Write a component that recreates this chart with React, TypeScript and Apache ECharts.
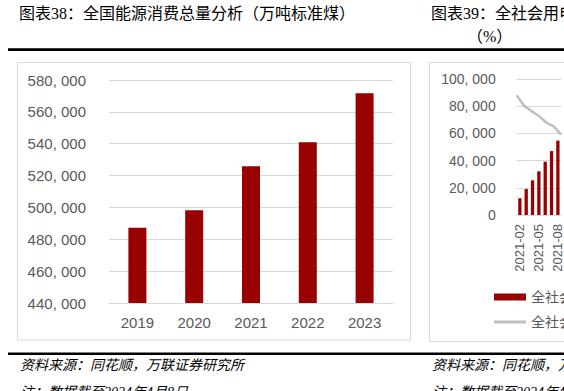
import React, { useEffect, useRef } from "react";
import * as echarts from "echarts";

const energyYears = ["2019", "2020", "2021", "2022", "2023"];
const energyValues = [487300, 498200, 525800, 540900, 571700];
const energyMin = 440000;
const energyMax = 580000;
const energyStep = 20000;

const elecMonths = ["2021-02", "2021-03", "2021-04", "2021-05", "2021-06", "2021-07", "2021-08"];
const elecCumulative = [12300, 19100, 25500, 32100, 39200, 47000, 54700];
const elecGrowth = [22.0, 20.1, 19.1, 18.2, 17.0, 16.3, 14.8];
const elecMax = 100000;
const elecStep = 20000;

const seriesNameBar = "全社会用电量：累计值（亿千瓦时）";
const seriesNameLine = "全社会用电量：累计同比（%）";

const titleLeft = "图表38：全国能源消费总量分析（万吨标准煤）";
const titleRight = "图表39：全社会用电量累计值及累计同比";
const titleRight2 = "（%）";
const sourceText = "资料来源：同花顺，万联证券研究所";
const noteText = "注：数据截至2024年4月8日";
const sourceTextRight = "资料来源：同花顺，万联证券研究所";

const fmt = (v: number) => v.toLocaleString("en-US").replace(/,/g, ", ");

const SANS = "'Liberation Sans', 'Noto Sans CJK SC', sans-serif";
const SERIF = "'Liberation Serif', 'Noto Sans CJK SC', serif";
const GRAY = "#595959";
const GRID = "#D9D9D9";
const RED = "#990000";

export default function App() {
  const ref = useRef<HTMLDivElement>(null);
  useEffect(() => {
    if (!ref.current) return;
    const chart = echarts.init(ref.current, undefined, { renderer: "svg" });
    chart.setOption({
      animation: false,
      backgroundColor: "#fff",
      grid: [
        { left: 109, top: 80, width: 284, height: 223 },
        { left: 516.7, top: 79, width: 49.7, height: 136 },
      ],
      xAxis: [
        {
          gridIndex: 0,
          type: "category",
          data: energyYears,
          axisLine: { lineStyle: { color: GRID } },
          axisTick: { show: false },
          axisLabel: { color: GRAY, fontSize: 15, margin: 12, fontFamily: SANS },
        },
        {
          gridIndex: 1,
          type: "category",
          data: elecMonths,
          axisLine: { lineStyle: { color: GRID } },
          axisTick: { show: false },
          axisLabel: { color: GRAY, fontSize: 13, margin: 9, rotate: 90, interval: 2, fontFamily: SANS },
        },
        {
          gridIndex: 1,
          type: "category",
          data: elecMonths,
          boundaryGap: false,
          show: false,
        },
      ],
      yAxis: [
        {
          gridIndex: 0,
          type: "value",
          min: energyMin,
          max: energyMax,
          interval: energyStep,
          axisLine: { show: false },
          axisTick: { show: false },
          axisLabel: { color: GRAY, fontSize: 15, margin: 23, fontFamily: SANS, formatter: fmt },
          splitLine: { lineStyle: { color: GRID } },
        },
        {
          gridIndex: 1,
          type: "value",
          min: 0,
          max: elecMax,
          interval: elecStep,
          axisLine: { show: false },
          axisTick: { show: false },
          axisLabel: { color: GRAY, fontSize: 14, margin: 21, fontFamily: SANS, formatter: fmt },
          splitLine: { lineStyle: { color: GRID } },
        },
        {
          gridIndex: 1,
          type: "value",
          min: 0,
          max: 25,
          show: false,
          splitLine: { show: false },
        },
      ],
      legend: [
        {
          data: [{ name: seriesNameBar, icon: "rect" }],
          left: 494,
          top: 290,
          padding: 0,
          itemWidth: 32,
          itemHeight: 7,
          itemGap: 0,
          textStyle: { color: GRAY, fontSize: 14, fontFamily: SANS },
        },
        {
          data: [{ name: seriesNameLine, icon: "rect" }],
          left: 494,
          top: 315,
          padding: 0,
          itemWidth: 32,
          itemHeight: 3,
          itemGap: 0,
          textStyle: { color: GRAY, fontSize: 14, fontFamily: SANS },
        },
      ],
      series: [
        {
          type: "bar",
          xAxisIndex: 0,
          yAxisIndex: 0,
          data: energyValues,
          barWidth: 18,
          itemStyle: { color: RED },
        },
        {
          name: seriesNameBar,
          type: "bar",
          xAxisIndex: 1,
          yAxisIndex: 1,
          data: elecCumulative,
          barWidth: 3.3,
          itemStyle: { color: RED },
        },
        {
          name: seriesNameLine,
          type: "line",
          xAxisIndex: 2,
          yAxisIndex: 2,
          data: elecGrowth,
          symbol: "none",
          lineStyle: { color: "#BFBFBF", width: 2.5 },
          itemStyle: { color: "#BFBFBF" },
        },
      ],
      graphic: [
        { type: "text", x: 19, y: 13, style: { text: titleLeft, fontSize: 16, fontFamily: SERIF, fill: "#000", verticalAlign: "middle" } },
        { type: "text", x: 431, y: 13, style: { text: titleRight, fontSize: 16, fontFamily: SERIF, fill: "#000", verticalAlign: "middle" } },
        { type: "text", x: 467, y: 36, style: { text: titleRight2, fontSize: 16, fontFamily: SERIF, fill: "#000", verticalAlign: "middle" } },
        { type: "rect", shape: { x: 8, y: 48.3, width: 556, height: 2.6 }, style: { fill: "#000" } },
        { type: "rect", shape: { x: 17.5, y: 62.5, width: 393, height: 277.5 }, style: { fill: "none", stroke: GRID, lineWidth: 1 } },
        { type: "rect", shape: { x: 429.5, y: 62.5, width: 200, height: 279 }, style: { fill: "none", stroke: GRID, lineWidth: 1 } },
        { type: "rect", shape: { x: 8, y: 352.5, width: 556, height: 2.6 }, style: { fill: "#000" } },
        { type: "text", x: 20, y: 365, style: { text: sourceText, fontSize: 14, fontStyle: "italic", fontFamily: SERIF, fill: "#000", verticalAlign: "middle" } },
        { type: "text", x: 20, y: 392, style: { text: noteText, fontSize: 14, fontStyle: "italic", fontFamily: SERIF, fill: "#000", verticalAlign: "middle" } },
        { type: "text", x: 432, y: 365, style: { text: sourceTextRight, fontSize: 14, fontStyle: "italic", fontFamily: SERIF, fill: "#000", verticalAlign: "middle" } },
        { type: "text", x: 432, y: 392, style: { text: noteText, fontSize: 14, fontStyle: "italic", fontFamily: SERIF, fill: "#000", verticalAlign: "middle" } },
      ],
    });
    return () => chart.dispose();
  }, []);
  return (
    <div
      ref={ref}
      style={{ position: "fixed", left: 0, top: 0, width: 564, height: 391, background: "#fff" }}
    />
  );
}
